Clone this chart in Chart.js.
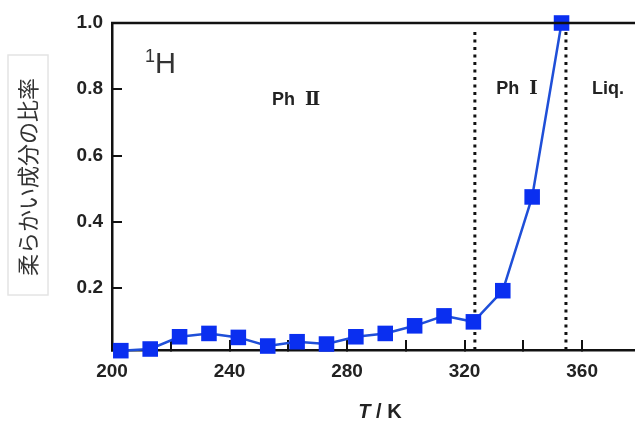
<!DOCTYPE html>
<html>
<head>
<meta charset="utf-8">
<script src="https://cdn.jsdelivr.net/npm/chart.js@4/dist/chart.umd.min.js"></script>
<style>
  html, body { margin: 0; padding: 0; background: #fff; overflow: hidden; }
</style>
</head>
<body>
<canvas id="chart" width="635" height="424"></canvas>
<script>
// temperature (K) and fraction of the soft component
const temps = [203, 213, 223, 233, 243, 253, 263, 273, 283, 293, 303, 313, 323, 333, 343, 353];
const softRatio = [0.011, 0.016, 0.053, 0.063, 0.051, 0.025, 0.038, 0.031, 0.053, 0.063, 0.086, 0.116, 0.098, 0.192, 0.475, 1.0];
// phase transition temperatures (dotted lines)
const phaseBoundaries = [323.5, 354.5];
const phaseNames = ['Ph  Ⅱ', 'Ph  Ⅰ', 'Liq.'];
const xTicks = [200, 220, 240, 260, 280, 300, 320, 340, 360];
const xLabels = [200, 240, 280, 320, 360];
const yTicks = [0.2, 0.4, 0.6, 0.8, 1.0];

const Y_MIN = 0.013;
const LINE_TOP = 0.982;

const axisFont = { family: "'Liberation Sans', Arial, sans-serif", size: 19, weight: 'bold' };

const datasets = [{
    label: '1H',
    data: temps.map((t, i) => ({ x: t, y: softRatio[i] })),
    borderColor: '#1f4fd8',
    borderWidth: 2.5,
    backgroundColor: '#0a2ff0',
    pointStyle: 'rect',
    pointRadius: 11,
    pointBorderWidth: 0,
    tension: 0,
    clip: false
}];
phaseBoundaries.forEach(b => {
    datasets.push({
        data: [{ x: b, y: Y_MIN }, { x: b, y: LINE_TOP }],
        borderColor: '#111',
        borderWidth: 3,
        borderDash: [3, 4.5],
        pointRadius: 0
    });
});

// frame line, phase labels, nucleus label and axis titles
const decor = {
    id: 'decor',
    afterDraw(chart) {
        const { ctx, chartArea: a } = chart;
        ctx.save();
        ctx.strokeStyle = '#111';
        ctx.lineWidth = 2.5;
        ctx.beginPath();
        ctx.moveTo(a.left - 1, a.top);
        ctx.lineTo(a.right, a.top);
        ctx.stroke();

        // 1H
        ctx.fillStyle = '#333';
        ctx.textBaseline = 'alphabetic';
        ctx.textAlign = 'left';
        ctx.font = "18px 'Liberation Sans', Arial, sans-serif";
        ctx.fillText('1', 145, 62);
        ctx.font = "29px 'Liberation Sans', Arial, sans-serif";
        ctx.fillText('H', 155, 73);

        // phase names
        ctx.fillStyle = '#222';
        ctx.textAlign = 'center';
        ctx.textBaseline = 'middle';
        ctx.font = "bold 18px 'Liberation Sans', 'DejaVu Serif', sans-serif";
        ctx.fillText(phaseNames[0], 296, 100);
        ctx.fillText(phaseNames[1], 517, 89);
        ctx.fillText(phaseNames[2], 608, 89);

        // x title: T / K
        ctx.textAlign = 'left';
        ctx.textBaseline = 'middle';
        ctx.font = "italic bold 20px 'Liberation Sans', Arial, sans-serif";
        const tw = ctx.measureText('T').width;
        ctx.font = "bold 20px 'Liberation Sans', Arial, sans-serif";
        const rest = ' / K';
        const total = tw + ctx.measureText(rest).width;
        const x0 = 380 - total / 2;
        ctx.font = "italic bold 20px 'Liberation Sans', Arial, sans-serif";
        ctx.fillText('T', x0, 412);
        ctx.font = "bold 20px 'Liberation Sans', Arial, sans-serif";
        ctx.fillText(rest, x0 + tw, 412);

        // y title in a light box
        ctx.strokeStyle = '#e4e4e4';
        ctx.lineWidth = 1.5;
        ctx.strokeRect(8, 55, 40, 240);
        ctx.translate(28, 177);
        ctx.rotate(-Math.PI / 2);
        ctx.fillStyle = '#333';
        ctx.textAlign = 'center';
        ctx.font = "22px 'Noto Sans CJK JP', sans-serif";
        ctx.fillText('柔らかい成分の比率', 0, 0);
        ctx.restore();
    }
};

new Chart(document.getElementById('chart'), {
    type: 'line',
    data: { datasets },
    options: {
        responsive: false,
        animation: false,
        layout: { autoPadding: false, padding: { top: 23, left: 0, right: 0, bottom: 0 } },
        plugins: {
            legend: { display: false },
            tooltip: { enabled: false }
        },
        scales: {
            x: {
                type: 'linear',
                min: 200,
                max: 378,
                afterBuildTicks: s => { s.ticks = xTicks.map(v => ({ value: v })); },
                afterFit: s => { s.height = 74; s.paddingLeft = 0; s.paddingRight = 0; },
                border: { display: true, color: '#111', width: 2.5 },
                grid: { drawOnChartArea: false, drawTicks: true, tickLength: -10, color: '#111', lineWidth: 2 },
                ticks: {
                    autoSkip: false,
                    maxRotation: 0,
                    padding: 20,
                    color: '#222',
                    font: axisFont,
                    callback: v => xLabels.includes(v) ? String(v) : ''
                }
            },
            y: {
                min: Y_MIN,
                max: 1.0,
                afterBuildTicks: s => { s.ticks = yTicks.map(v => ({ value: v })); },
                afterFit: s => { s.width = 112; s.paddingTop = 0; s.paddingBottom = 0; },
                border: { display: true, color: '#111', width: 2.5 },
                grid: { drawOnChartArea: false, drawTicks: true, tickLength: -10, color: '#111', lineWidth: 2 },
                ticks: {
                    padding: 19,
                    color: '#222',
                    font: axisFont,
                    callback: v => v.toFixed(1)
                }
            }
        }
    },
    plugins: [decor]
});
</script>
</body>
</html>
